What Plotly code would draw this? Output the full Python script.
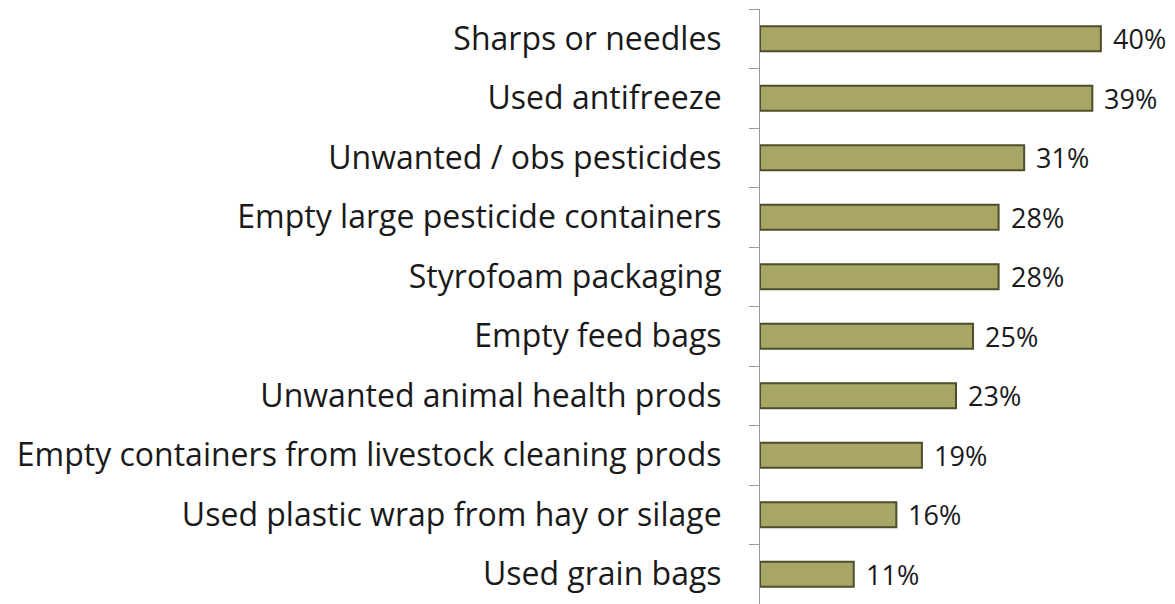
import plotly.graph_objects as go

categories = ["Sharps or needles", "Used antifreeze", "Unwanted / obs pesticides",
              "Empty large pesticide containers", "Styrofoam packaging", "Empty feed bags",
              "Unwanted animal health prods", "Empty containers from livestock cleaning prods",
              "Used plastic wrap from hay or silage", "Used grain bags"]
values = [40, 39, 31, 28, 28, 25, 23, 19, 16, 11]
labels = [f"{v}%" for v in values]

fig = go.Figure()
fig.add_trace(go.Bar(
    y=categories, x=values, orientation="h",
    marker=dict(color="#A7A664", line=dict(color="#4E4D2C", width=2)),
    width=0.42,
))
for c, v, t in zip(categories, values, labels):
    fig.add_annotation(x=v, y=c, text=t, showarrow=False, xanchor="left",
                       xshift=10, font=dict(size=27, color="#1a1a1a",
                                            family="Open Sans"))

fig.update_layout(
    width=1167, height=596,
    margin=dict(l=752, r=0, t=1, b=0),
    plot_bgcolor="white", paper_bgcolor="white",
    showlegend=False,
    font=dict(family="Open Sans", size=32, color="#1a1a1a"),
)
fig.update_xaxes(range=[0, 48.7], visible=False)
fig.update_yaxes(autorange="reversed", showline=True, linecolor="#9a9a9a", linewidth=1,
                 ticks="outside", tickson="boundaries", ticklen=10, tickcolor="#9a9a9a",
                 ticklabelstandoff=31, tickfont=dict(size=32, family="Open Sans"),
                 automargin=False)
fig.write_html("out.html")
